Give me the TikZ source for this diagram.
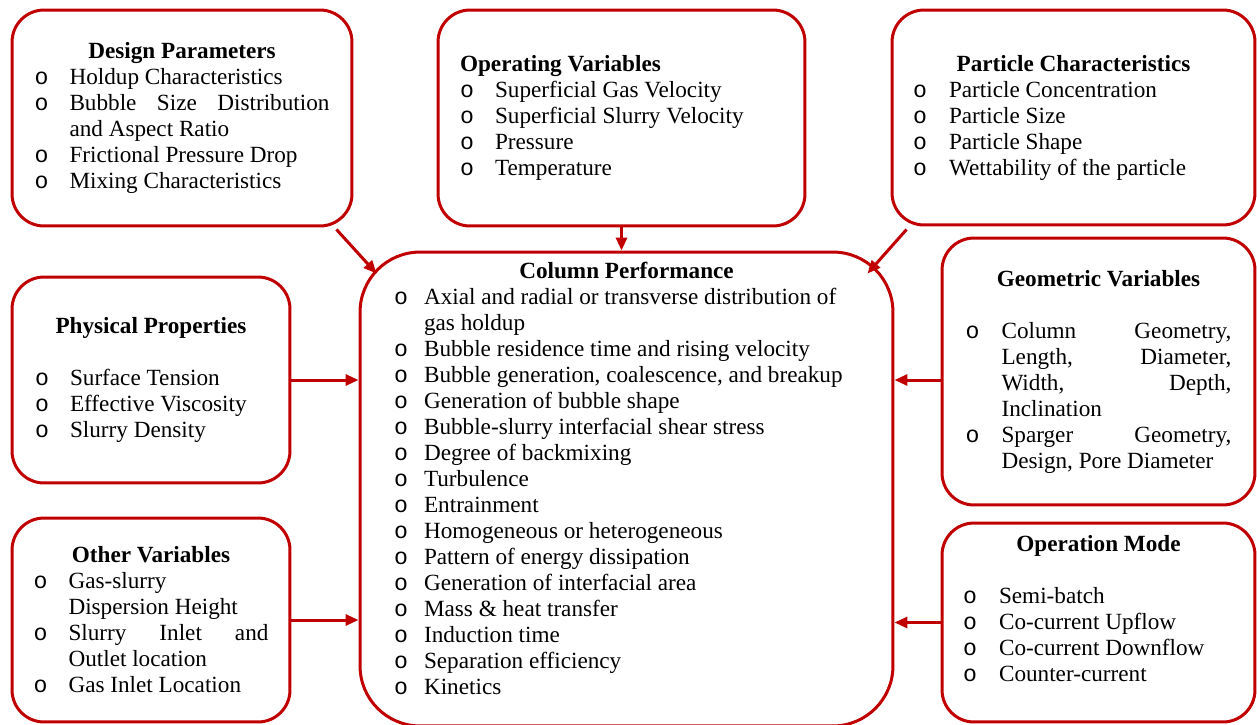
\documentclass[tikz,border=0pt]{standalone}
\usepackage{fontspec}
\setmainfont{Liberation Serif}
\newfontfamily\bulfont{Liberation Mono}
\usetikzlibrary{arrows.meta}
\definecolor{boxred}{RGB}{192,0,0}
% list helpers: courier "o" bullet, hanging item, centred heading
\newcommand{\bull}{{\bulfont o}}
\newcommand{\itm}[2][0.7cm]{\par\noindent\hangindent=#1\hangafter=1\makebox[#1][l]{\bull}#2}
\newcommand{\hd}[1]{{\centering\bfseries #1\par}}
\tikzset{
  panel/.style = {draw=boxred, line width=0.06cm, rounded corners=0.64cm,
                  inner sep=0pt, fill=white,
                  font=\fontsize{13.2}{14.8}\selectfont},
  flow/.style  = {draw=boxred, line width=0.06cm,
                  -{Triangle[length=0.26cm, width=0.22cm]}},
}

\begin{document}
\begin{tikzpicture}[x=0.02cm, y=-0.02cm]
  \useasboundingbox (0,0) rectangle (1257,724);

  % top row
  \node[panel, minimum width=6.8cm, minimum height=4.32cm] (design) at (182,118)
    {\begin{minipage}{5.9cm}
      \hd{Design Parameters}
      \itm{Holdup Characteristics}
      \itm{Bubble Size Distribution\linebreak and Aspect Ratio}
      \itm{Frictional Pressure Drop}
      \itm{Mixing Characteristics}
    \end{minipage}};
  \node[panel, minimum width=7.34cm, minimum height=4.32cm] (operating) at (621.5,118)
    {\begin{minipage}{6.46cm}
      {\noindent\bfseries Operating Variables\par}
      \itm{Superficial Gas Velocity}
      \itm{Superficial Slurry Velocity}
      \itm{Pressure}
      \itm{Temperature}
    \end{minipage}};
  \node[panel, minimum width=7.26cm, minimum height=4.3cm] (particle) at (1073.5,117.5)
    {\begin{minipage}{6.42cm}
      \hd{Particle Characteristics}
      \itm[0.72cm]{Particle Concentration}
      \itm[0.72cm]{Particle Size}
      \itm[0.72cm]{Particle Shape}
      \itm[0.72cm]{Wettability of the particle}
    \end{minipage}};

  % left column
  \node[panel, minimum width=5.56cm, minimum height=4.12cm] (physical) at (151,380)
    {\begin{minipage}{4.64cm}
      \hd{Physical Properties}
      \vspace{\baselineskip}
      \itm[0.7cm]{Surface Tension}
      \itm[0.7cm]{Effective Viscosity}
      \itm[0.7cm]{Slurry Density}
    \end{minipage}};
  \node[panel, minimum width=5.56cm, minimum height=4.08cm] (other) at (151,620)
    {\begin{minipage}{4.7cm}
      \hd{Other Variables}
      \itm{Gas-slurry\newline Dispersion Height}
      \itm{Slurry Inlet and\linebreak Outlet location}
      \itm{Gas Inlet Location}
    \end{minipage}};

  % centre
  \node[panel, rounded corners=1.2cm, minimum width=10.66cm, minimum height=9.48cm] (column) at (626.5,489)
    {\begin{minipage}{9.3cm}
      \hd{Column Performance}
      \itm[0.6cm]{Axial and radial or transverse distribution of\newline gas holdup}
      \itm[0.6cm]{Bubble residence time and rising velocity}
      \itm[0.6cm]{Bubble generation, coalescence, and breakup}
      \itm[0.6cm]{Generation of bubble shape}
      \itm[0.6cm]{Bubble-slurry interfacial shear stress}
      \itm[0.6cm]{Degree of backmixing}
      \itm[0.6cm]{Turbulence}
      \itm[0.6cm]{Entrainment}
      \itm[0.6cm]{Homogeneous or heterogeneous}
      \itm[0.6cm]{Pattern of energy dissipation}
      \itm[0.6cm]{Generation of interfacial area}
      \itm[0.6cm]{Mass \& heat transfer}
      \itm[0.6cm]{Induction time}
      \itm[0.6cm]{Separation efficiency}
      \itm[0.6cm]{Kinetics}
      \vspace*{0.44cm}
    \end{minipage}};

  % right column
  \node[panel, minimum width=6.26cm, minimum height=5.34cm] (geometric) at (1098.5,371.5)
    {\begin{minipage}{5.32cm}
      \hd{Geometric Variables}
      \vspace{\baselineskip}
      \itm[0.72cm]{Column Geometry,\linebreak Length, Diameter,\linebreak Width, Depth,\linebreak Inclination}
      \itm[0.72cm]{Sparger Geometry,\linebreak Design, Pore Diameter}
    \end{minipage}};
  \node[panel, minimum width=6.26cm, minimum height=3.98cm] (opmode) at (1098.5,622.5)
    {\begin{minipage}{5.42cm}
      \hd{Operation Mode}
      \vspace{\baselineskip}
      \itm[0.72cm]{Semi-batch}
      \itm[0.72cm]{Co-current Upflow}
      \itm[0.72cm]{Co-current Downflow}
      \itm[0.72cm]{Counter-current}
      \vspace*{0.56cm}
    \end{minipage}};

  % influences into the column
  \draw[flow] ([xshift=-0.34cm, yshift=-0.04cm]design.south east)
    -- ([xshift=0.36cm, yshift=-0.46cm]column.north west);
  \draw[flow] (operating.south) -- (operating.south |- column.north);
  \draw[flow] ([xshift=0.32cm, yshift=-0.06cm]particle.south west)
    -- ([xshift=-0.54cm, yshift=-0.46cm]column.north east);
  \draw[flow] (physical.east) -- (physical.east -| column.west);
  \draw[flow] (other.east) -- (other.east -| column.west);
  \draw[flow] ([yshift=-0.17cm]geometric.west) -- ([yshift=-0.17cm]geometric.west -| column.east);
  \draw[flow] (opmode.west) -- (opmode.west -| column.east);
\end{tikzpicture}
\end{document}
